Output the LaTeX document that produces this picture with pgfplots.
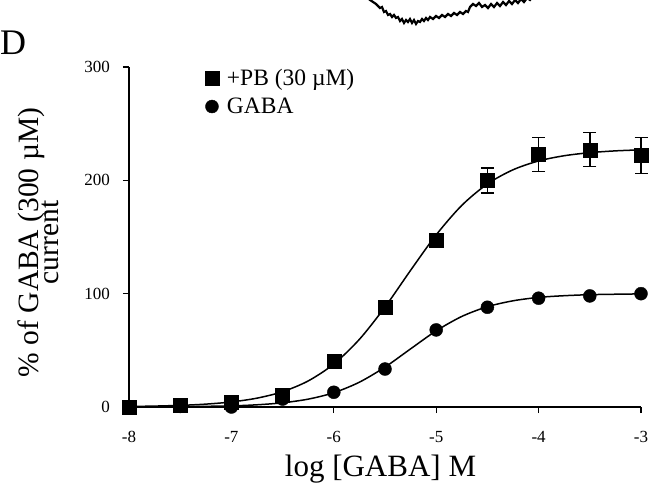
\documentclass[border=0pt]{standalone}
\usepackage{pgfplots}
\pgfplotsset{compat=1.18}
\usepackage{fontspec}
\setmainfont{Liberation Serif}
\newcommand{\tf}{\fontsize{17bp}{20bp}\selectfont}
\begin{document}
\begin{tikzpicture}
\path (0bp,0bp) rectangle (656bp,487bp);
% trace fragment of neighbouring panel (pixel coordinates, y downward)
\begin{axis}[at={(0bp,0bp)}, anchor=south west, scale only axis,
  width=656bp, height=487bp, xmin=0, xmax=656, ymin=0, ymax=487,
  y dir=reverse, hide axis, clip=true]
\addplot[black, line width=2.2bp] coordinates {
(366,-4) (370,0) (373,2) (376,4) (378,6) (380,8) (382,7) (384,12) (386,11) (388,15)
(390,14) (392,17) (394,15) (396,18) (398,17) (400,21) (402,19) (404,23) (406,20)
(408,22) (410,19) (412,23) (414,20) (416,24) (418,21) (420,22) (422,19) (424,21)
(426,18) (428,20) (430,17) (433,19) (436,16) (439,18) (442,15) (445,17) (448,14)
(451,16) (454,13) (457,15) (460,12) (463,14) (466,11) (468,12) (470,7) (473,4)
(476,6) (479,3) (482,7) (485,5) (488,8) (491,4) (494,7) (497,3) (500,6) (503,2)
(506,5) (509,1) (512,4) (515,0) (518,3) (521,-1) (524,2) (527,-2) (530,0) (533,-4)};
\end{axis}
\begin{axis}[
  at={(129bp,80bp)}, anchor=south west,
  scale only axis, width=512bp, height=340bp,
  xmin=-8, xmax=-3, ymin=0, ymax=300,
  axis x line=bottom, axis y line=left,
  axis line style={-, line width=1.3bp, black},
  xtick={-8,-7,-6,-5,-4,-3}, xticklabels={},
  ytick={0,100,200,300}, yticklabels={},
  tick align=outside, major tick length=6bp,
  tick style={line width=1.3bp, black},
  clip=false,
  legend style={draw=none, fill=none, at={(axis description cs:0.148,1)},
    anchor=north west, font=\fontsize{23.5bp}{26bp}\selectfont,
    inner sep=0pt, row sep=7bp, nodes={inner sep=2bp}},
  legend cell align=left,
  legend image code/.code={\path[draw=none, fill=none] (0bp,-7bp) rectangle (20bp,7bp);
    \draw[#1] plot coordinates {(7bp,0bp)};},
]
\addplot[black, only marks, mark=square*, mark size=7bp,
  error bars/.cd, y dir=both, y explicit,
  error bar style={line width=1.5bp, black},
  error mark options={rotate=90, mark size=6.5bp, line width=1.5bp, black}]
  table[x=x, y=y, y error=e] {
x y e
-8 0 0
-7.5 1.5 0
-7 4 0
-6.5 10.5 0
-6 40 0
-5.5 88 0
-5 147 5
-4.5 200 11
-4 223 15
-3.5 227 15
-3 222 16
};
\addlegendentry{+PB (30 µM)}
\addplot[black, only marks, mark=*, mark size=6.5bp] table {
x y
-8 0
-7.5 0.5
-7 0
-6.5 7
-6 13
-5.5 33.5
-5 68
-4.5 88
-4 96
-3.5 98
-3 100
};
\addlegendentry{GABA}
% fitted curves
\addplot[black, line width=1.5bp, smooth, forget plot] coordinates {
(-8,0.45) (-7.75,0.81) (-7.5,1.43) (-7.25,2.53) (-7,4.46) (-6.75,7.81) (-6.5,13.5)
(-6.25,23.0) (-6,37.9) (-5.75,59.7) (-5.5,88.2) (-5.25,120.6) (-5,151.9)
(-4.75,177.9) (-4.5,196.8) (-4.25,209.3) (-4,217.1) (-3.75,221.7) (-3.5,224.4)
(-3.25,226.0) (-3,226.9)};
\addplot[black, line width=1.5bp, smooth, forget plot] coordinates {
(-8,0.07) (-7.5,0.27) (-7,1.01) (-6.75,1.95) (-6.5,3.71) (-6.25,6.94) (-6,12.6)
(-5.75,21.9) (-5.5,35.2) (-5.25,51.3) (-5,67.2) (-4.75,79.9) (-4.5,88.5)
(-4.25,93.7) (-4,96.7) (-3.75,98.2) (-3.5,99.1) (-3.25,99.5) (-3,99.8)};
% tick labels
\pgfplotsinvokeforeach{-8,-7,-6,-5,-4,-3}{
  \node[anchor=base, inner sep=0pt, font=\tf, yshift=-36bp] at (axis cs:#1,0) {#1};
}
\pgfplotsinvokeforeach{0,100,200,300}{
  \node[anchor=east, inner sep=0pt, font=\tf, xshift=-19bp] at (axis cs:-8,#1) {#1};
}
\end{axis}
\node[anchor=base west, inner sep=0, font=\fontsize{36bp}{40bp}\selectfont] at (0bp,432bp) {D};
\node[anchor=base, inner sep=0, font=\fontsize{31bp}{32bp}\selectfont] at (380.5bp,11bp) {log [GABA] M};
\node[rotate=90, anchor=base, inner sep=0, font=\fontsize{29.5bp}{32bp}\selectfont] at (38bp,244.5bp) {\% of GABA (300 µM)};
\node[rotate=90, anchor=base, inner sep=0, font=\fontsize{29.5bp}{32bp}\selectfont] at (58.5bp,244.5bp) {current};
\end{tikzpicture}
\end{document}
